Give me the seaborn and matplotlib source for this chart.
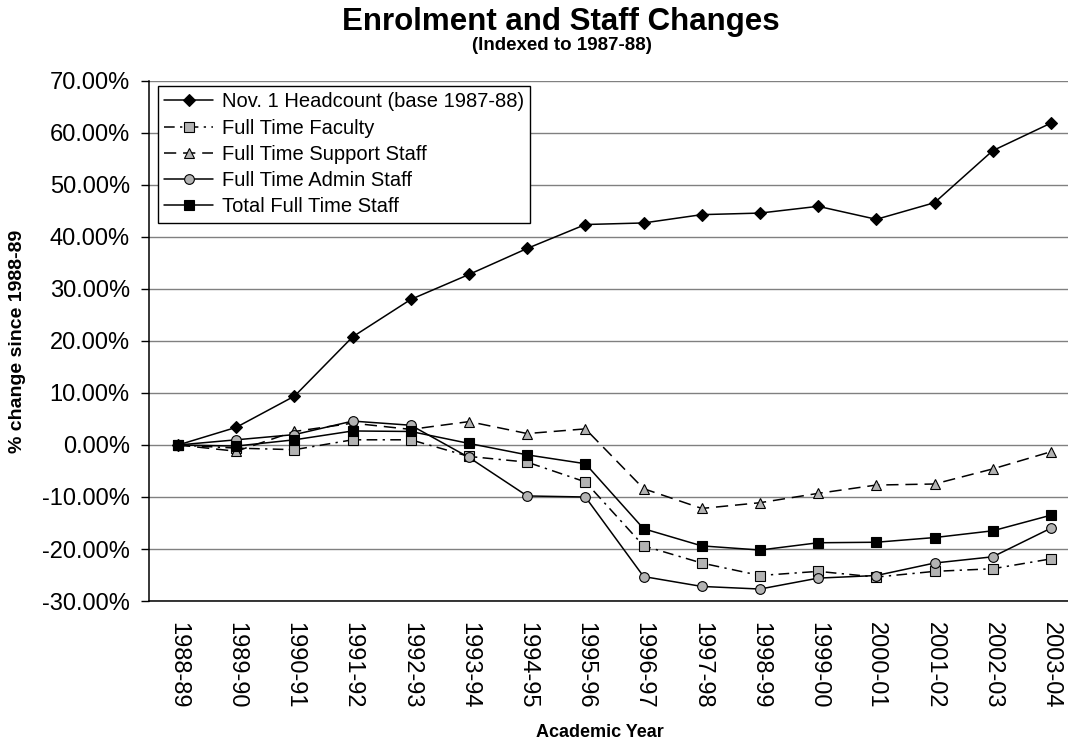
import numpy as np
import pandas as pd
import matplotlib
matplotlib.use("Agg")
import matplotlib.pyplot as plt
import seaborn as sns

# Academic years on the category axis
years = ["1988-89", "1989-90", "1990-91", "1991-92", "1992-93", "1993-94",
         "1994-95", "1995-96", "1996-97", "1997-98", "1998-99", "1999-00",
         "2000-01", "2001-02", "2002-03", "2003-04"]

# Percentage change for each series
headcount = [0.0, 3.4, 9.4, 20.8, 28.0, 32.8, 37.8, 42.4, 42.7, 44.3,
             44.6, 45.9, 43.4, 46.6, 56.6, 61.9]
faculty = [0.0, -0.6, -0.9, 1.0, 1.0, -2.2, -3.3, -7.1, -19.4, -22.7,
           -25.1, -24.3, -25.4, -24.3, -23.8, -21.9]
support = [0.0, -1.2, 2.6, 4.2, 3.0, 4.5, 2.2, 3.1, -8.4, -12.2,
           -11.1, -9.3, -7.7, -7.5, -4.6, -1.3]
admin = [0.0, 1.0, 2.0, 4.6, 3.8, -2.4, -9.8, -10.0, -25.3, -27.2,
         -27.7, -25.6, -25.1, -22.7, -21.5, -16.0]
total = [0.0, -0.2, 1.0, 2.7, 2.6, 0.3, -1.9, -3.6, -16.1, -19.4,
         -20.2, -18.8, -18.7, -17.8, -16.5, -13.5]

series_names = ["Nov. 1 Headcount (base 1987-88)", "Full Time Faculty",
                "Full Time Support Staff", "Full Time Admin Staff",
                "Total Full Time Staff"]
series_values = [headcount, faculty, support, admin, total]

y_ticks = [-30, -20, -10, 0, 10, 20, 30, 40, 50, 60, 70]

title = "Enrolment and Staff Changes"
subtitle = "(Indexed to 1987-88)"
x_title = "Academic Year"
y_title = "% change since 1988-89"

sns.set_style("white")
plt.rcParams["font.family"] = ["Liberation Sans", "DejaVu Sans"]
for key in ["text.color", "axes.labelcolor", "xtick.color", "ytick.color"]:
    plt.rcParams[key] = "black"

GRAY = "#b3b3b3"
styles = {
    series_names[0]: dict(marker="D", markersize=6.5, markerfacecolor="black",
                          linestyle="-"),
    series_names[1]: dict(marker="s", markersize=6.5, markerfacecolor=GRAY,
                          linestyle=(0, (7, 3.5, 1.5, 3.5))),
    series_names[2]: dict(marker="^", markersize=7.5, markerfacecolor=GRAY,
                          linestyle=(0, (8, 4.5))),
    series_names[3]: dict(marker="o", markersize=7, markerfacecolor=GRAY,
                          linestyle="-"),
    series_names[4]: dict(marker="s", markersize=6.5, markerfacecolor="black",
                          linestyle="-"),
}

frames = []
for name, vals in zip(series_names, series_values):
    frames.append(pd.DataFrame({"pos": np.arange(len(years)),
                                "year": years, "value": vals, "series": name}))
df = pd.concat(frames, ignore_index=True)

fig = plt.figure(figsize=(10.68, 7.44), dpi=100)
ax = fig.add_axes([149 / 1068, 1 - 601 / 744, (1080 - 149) / 1068, 520 / 744])

for name in series_names:
    sub = df[df["series"] == name]
    sns.lineplot(data=sub, x="pos", y="value", ax=ax, color="black",
                 linewidth=1.1, markeredgecolor="black", markeredgewidth=0.8,
                 label=name, zorder=3, **styles[name])

ax.set_xlim(-0.5, len(years) - 0.5)
ax.set_ylim(-30, 70)

# Category labels at centres, tick marks on category boundaries
ax.set_xticks(np.arange(len(years)))
ax.set_xticklabels(years, rotation=270, fontsize=17, va="top", ha="center")
ax.set_xticks(np.arange(-0.5, len(years)), minor=True)
ax.tick_params(axis="x", which="major", length=0, pad=15)
ax.tick_params(axis="x", which="minor", length=5.8, width=1, color="black",
               direction="out")

ax.set_yticks(y_ticks)
ax.set_yticklabels([f"{v:.2f}%" for v in y_ticks], fontsize=17)
ax.tick_params(axis="y", length=5.8, width=1, color="black", direction="out",
               pad=8, left=True)

ax.yaxis.grid(True, color="#808080", linewidth=1.0)
ax.xaxis.grid(False)
ax.set_axisbelow(True)

for side in ["top", "right"]:
    ax.spines[side].set_visible(False)
for side in ["left", "bottom"]:
    ax.spines[side].set_color("black")
    ax.spines[side].set_linewidth(1.1)
    ax.spines[side].set_zorder(4)

ax.set_xlabel(x_title, fontsize=13, fontweight="bold")
ax.xaxis.set_label_coords((600 - 149) / 931, (601 - 724) / 520)
ax.set_ylabel(y_title, fontsize=14, fontweight="bold")
ax.yaxis.set_label_coords((26 - 149) / 931, 0.5)

leg = ax.legend(loc="upper left", bbox_to_anchor=(9 / 931, (601 - 86) / 520),
                borderaxespad=0, fontsize=14.5, frameon=True, fancybox=False,
                framealpha=1, edgecolor="black", handlelength=2.4,
                handletextpad=0.45, labelspacing=0.36, borderpad=0.32)
leg.get_frame().set_linewidth(1.0)

fig.text(561 / 1068, 1 - 22 / 744, title, fontsize=22.5, fontweight="bold",
         ha="center", va="center")
fig.text(562 / 1068, 1 - 45 / 744, subtitle, fontsize=13.5, fontweight="bold",
         ha="center", va="center")

fig.savefig("out.png", dpi=100)
